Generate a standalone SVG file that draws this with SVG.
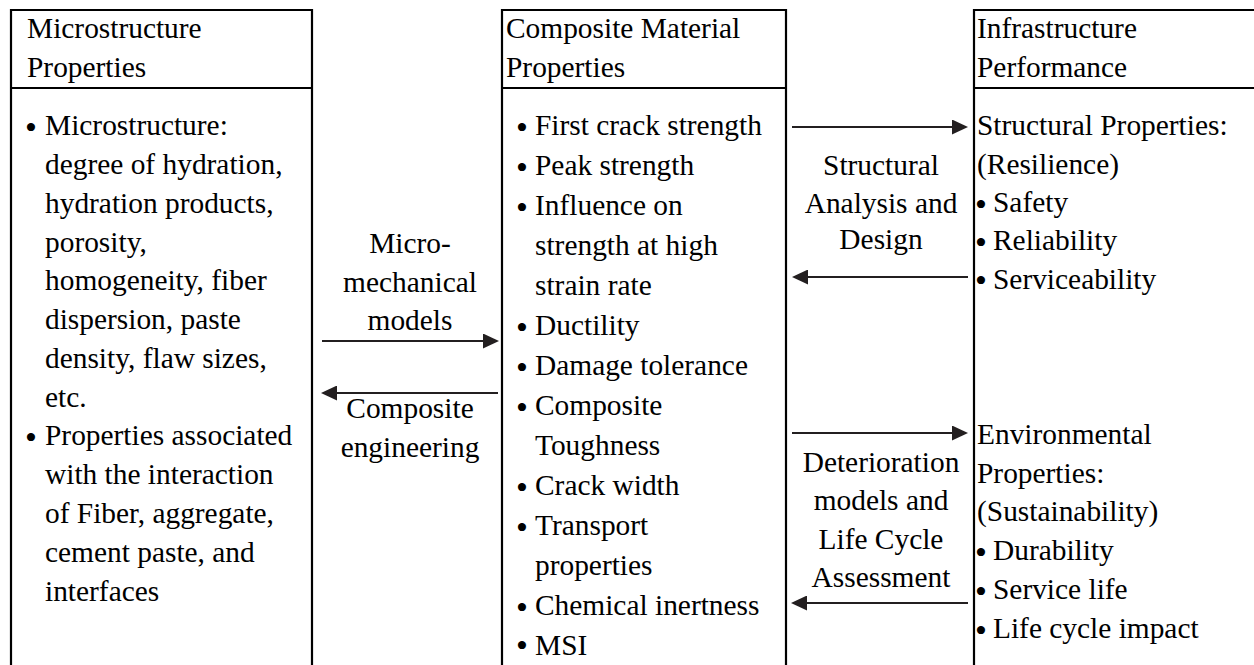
<svg xmlns="http://www.w3.org/2000/svg" width="1254" height="665" viewBox="0 0 1254 665">
<style>
text{font-family:"Liberation Serif","Times New Roman",serif;font-size:29.4px;fill:#000}
.c{text-anchor:middle}
.b{font-size:34px}
.box{fill:none;stroke:#000;stroke-width:2.2}
.arr{fill:none;stroke:#231f20;stroke-width:2}
</style>
<defs>
<marker id="ah" viewBox="0 0 16 15" refX="6" refY="7.5" markerWidth="16" markerHeight="15" markerUnits="userSpaceOnUse" orient="auto">
<path d="M0,0 L16,7.5 L0,15 z" fill="#231f20"/>
</marker>
</defs>
<rect width="1254" height="665" fill="#fff"/>

<g id="micro">
<path class="box" d="M11,675 V10 H312 V675 M11,88 H312"/>
<text x="27" y="37.5">Microstructure</text>
<text x="27" y="76.5">Properties</text>
<text y="135"><tspan class="b" x="25" dy="3.5">•</tspan><tspan x="45" dy="-3.5">Microstructure:</tspan></text>
<text x="45" y="174">degree of hydration,</text>
<text x="45" y="212.5">hydration products,</text>
<text x="45" y="251.5">porosity,</text>
<text x="45" y="290">homogeneity, fiber</text>
<text x="45" y="329">dispersion, paste</text>
<text x="45" y="368">density, flaw sizes,</text>
<text x="45" y="406.5">etc.</text>
<text y="445"><tspan class="b" x="25" dy="3.5">•</tspan><tspan x="45" dy="-3.5">Properties associated</tspan></text>
<text x="45" y="484">with the interaction</text>
<text x="45" y="523">of Fiber, aggregate,</text>
<text x="45" y="562">cement paste, and</text>
<text x="45" y="601">interfaces</text>
</g>

<g id="composite">
<path class="box" d="M502,675 V10 H786 V675 M502,88 H786"/>
<text x="506" y="37.5">Composite Material</text>
<text x="506" y="76.5">Properties</text>
<text y="135"><tspan class="b" x="516" dy="3.5">•</tspan><tspan x="535" dy="-3.5">First crack strength</tspan></text>
<text y="175"><tspan class="b" x="516" dy="3.5">•</tspan><tspan x="535" dy="-3.5">Peak strength</tspan></text>
<text y="215"><tspan class="b" x="516" dy="3.5">•</tspan><tspan x="535" dy="-3.5">Influence on</tspan></text>
<text x="535" y="255">strength at high</text>
<text x="535" y="295">strain rate</text>
<text y="335"><tspan class="b" x="516" dy="3.5">•</tspan><tspan x="535" dy="-3.5">Ductility</tspan></text>
<text y="375"><tspan class="b" x="516" dy="3.5">•</tspan><tspan x="535" dy="-3.5">Damage tolerance</tspan></text>
<text y="415"><tspan class="b" x="516" dy="3.5">•</tspan><tspan x="535" dy="-3.5">Composite</tspan></text>
<text x="535" y="455">Toughness</text>
<text y="495"><tspan class="b" x="516" dy="3.5">•</tspan><tspan x="535" dy="-3.5">Crack width</tspan></text>
<text y="535"><tspan class="b" x="516" dy="3.5">•</tspan><tspan x="535" dy="-3.5">Transport</tspan></text>
<text x="535" y="575">properties</text>
<text y="615"><tspan class="b" x="516" dy="3.5">•</tspan><tspan x="535" dy="-3.5">Chemical inertness</tspan></text>
<text y="655"><tspan class="b" x="516" dy="1.5">•</tspan><tspan x="535" dy="-1.5">MSI</tspan></text>
</g>

<g id="infrastructure">
<path class="box" d="M974,675 V10 H1260 M974,88 H1260"/>
<text x="977" y="37.5">Infrastructure</text>
<text x="977" y="76.5">Performance</text>
<text x="977" y="135">Structural Properties:</text>
<text x="977" y="173.5">(Resilience)</text>
<text y="212"><tspan class="b" x="975" dy="3.5">•</tspan><tspan x="993" dy="-3.5">Safety</tspan></text>
<text y="250"><tspan class="b" x="975" dy="3.5">•</tspan><tspan x="993" dy="-3.5">Reliability</tspan></text>
<text y="288.5"><tspan class="b" x="975" dy="3.5">•</tspan><tspan x="993" dy="-3.5">Serviceability</tspan></text>
<text x="977" y="444">Environmental</text>
<text x="977" y="483">Properties:</text>
<text x="977" y="521">(Sustainability)</text>
<text y="560"><tspan class="b" x="975" dy="3.5">•</tspan><tspan x="993" dy="-3.5">Durability</tspan></text>
<text y="599"><tspan class="b" x="975" dy="3.5">•</tspan><tspan x="993" dy="-3.5">Service life</tspan></text>
<text y="638"><tspan class="b" x="975" dy="3.5">•</tspan><tspan x="993" dy="-3.5">Life cycle impact</tspan></text>
</g>

<g id="connectors">
<line class="arr" x1="322" y1="341" x2="489" y2="341" marker-end="url(#ah)"/>
<line class="arr" x1="498" y1="393" x2="331" y2="393" marker-end="url(#ah)"/>
<line class="arr" x1="792" y1="127" x2="958" y2="127" marker-end="url(#ah)"/>
<line class="arr" x1="968" y1="277" x2="802" y2="277" marker-end="url(#ah)"/>
<line class="arr" x1="792" y1="433" x2="958" y2="433" marker-end="url(#ah)"/>
<line class="arr" x1="968" y1="603" x2="801" y2="603" marker-end="url(#ah)"/>
</g>

<g id="labels">
<text class="c" x="410" y="253">Micro-</text>
<text class="c" x="410" y="292">mechanical</text>
<text class="c" x="410" y="330">models</text>
<text class="c" x="410" y="418">Composite</text>
<text class="c" x="410" y="457">engineering</text>
<text class="c" x="881" y="175">Structural</text>
<text class="c" x="881" y="213">Analysis and</text>
<text class="c" x="881" y="249">Design</text>
<text class="c" x="881" y="472">Deterioration</text>
<text class="c" x="881" y="510">models and</text>
<text class="c" x="881" y="549">Life Cycle</text>
<text class="c" x="881" y="587">Assessment</text>
</g>
</svg>
